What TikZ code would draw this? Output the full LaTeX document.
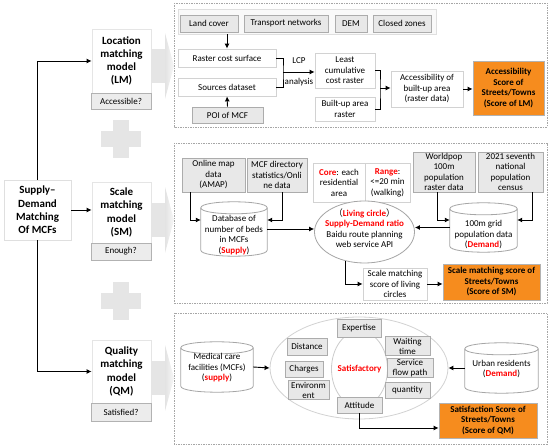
\documentclass[tikz,border=0pt]{standalone}
\usepackage{fontspec}
\setmainfont{Carlito}
\newfontfamily\cjk{Noto Sans CJK SC}
\usetikzlibrary{arrows.meta,shapes.geometric}
\definecolor{scoreorange}{RGB}{246,140,30}
\newcommand{\redb}[1]{\textcolor{red}{\bfseries #1}}
\newcommand{\drum}[2]{%
  \filldraw[draw=gray!70, fill=white, line width=0.8pt] (#1.north west) -- (#1.south west)
    .. controls +(0,4*#2/3) and +(0,4*#2/3) .. (#1.south east) -- (#1.north east)
    .. controls +(0,-4*#2/3) and +(0,-4*#2/3) .. (#1.north west) -- cycle;
  \draw[draw=gray!70, line width=0.8pt] (#1.north west)
    .. controls +(0,4*#2/3) and +(0,4*#2/3) .. (#1.north east);}

\begin{document}
\begin{tikzpicture}[x=1pt, y=-1pt, font=\fontsize{9}{10.5}\selectfont,
    gbox/.style={draw=gray!65, fill=gray!18, line width=0.8pt, inner sep=1pt, align=center},
    wbox/.style={draw=gray!35, fill=white, line width=0.8pt, inner sep=1pt, align=center},
    sbox/.style={draw=gray!60, fill=scoreorange, line width=0.8pt, inner sep=1pt, align=center, font=\fontsize{9}{10.5}\selectfont\bfseries},
    model/.style={draw=gray!20, fill=white, line width=0.8pt, inner sep=1pt, align=center, font=\fontsize{11}{13.3}\selectfont\bfseries},
    ask/.style={draw=gray!60, fill=gray!15, line width=0.8pt, inner sep=1pt},
    panel/.style={draw=gray!70, line width=0.6pt, dash pattern=on 1.5pt off 1pt},
    wire/.style={line width=0.9pt},
    link/.style={line width=0.9pt, -{Latex[length=5pt, width=5pt]}},
    holder/.style={inner sep=0pt, align=center}]
        \useasboundingbox (0,0) rectangle (550,446);

        \draw[panel] (174,3) rectangle (547,127);
        \draw[panel] (174,143) rectangle (547,303);
        \draw[panel] (174,313) rectangle (547,444);

        \foreach \cy in {66,220,378} {
            \fill[gray!20] (151,\cy-17) rectangle (165,\cy+17);
            \shade[left color=gray!22, right color=gray!6] (165,\cy-33) -- (174,\cy) -- (165,\cy+33) -- cycle;
        }
        \foreach \cy in {139,301} {
            \fill[gray!20] (113,\cy-19) rectangle (129,\cy+19);
            \fill[gray!20] (101,\cy-8) rectangle (141,\cy+8);
        }

        \node at (37.5,210) (sd) [model, draw=gray!25, minimum width=67pt, minimum height=60pt] {Supply–\\Demand\\Matching\\Of MCFs};
        \node at (121.5,61) (lm) [model, minimum width=59pt, minimum height=64pt] {Location\\matching\\model\\(LM)};
        \node at (121,101) (lmq) [ask, minimum width=60pt, minimum height=16pt] {Accessible?};
        \node at (121.5,212.5) (sm) [model, minimum width=59pt, minimum height=61pt] {Scale\\matching\\model\\(SM)};
        \node at (121,251.5) (smq) [ask, minimum width=60pt, minimum height=17pt] {Enough?};
        \node at (121.5,371.5) (qm) [model, minimum width=59pt, minimum height=63pt] {Quality\\matching\\model\\(QM)};
        \node at (121,412) (qmq) [ask, minimum width=60pt, minimum height=18pt] {Satisfied?};

        \draw[link] (sd.north) |- (lm.west);
        \draw[link] (sd.east) -- (sm.west |- sd.east);
        \draw[link] (sd.south) |- (qm.west);

        \node at (307,21.5) (inputs) [draw=gray!25, fill=gray!5, minimum width=258pt, minimum height=25pt] {};
        \node at (209,23.5) (landc) [gbox, minimum width=58pt, minimum height=17pt] {Land cover};
        \node at (286,23.5) (transp) [gbox, minimum width=84pt, minimum height=17pt] {Transport networks};
        \node at (351,23.5) (dem) [gbox, minimum width=32pt, minimum height=17pt] {DEM};
        \node at (402,23.5) (closed) [gbox, minimum width=58pt, minimum height=17pt] {Closed zones};
        \node at (227,58) (rcs) [wbox, minimum width=98pt, minimum height=18pt] {Raster cost surface};
        \node at (227,87) (src) [wbox, minimum width=98pt, minimum height=18pt] {Sources dataset};
        \node at (227.5,115) (poi) [gbox, minimum width=71pt, minimum height=16pt] {POI of MCF};
        \node at (345,70.5) (lcr) [wbox, minimum width=60pt, minimum height=35pt] {Least\\cumulative\\cost raster};
        \node at (345,109) (bua) [wbox, minimum width=60pt, minimum height=24pt] {Built-up area\\raster};
        \node at (427,89) (acc) [wbox, minimum width=72pt, minimum height=36pt] {Accessibility of\\built-up area\\(raster data)};
        \node at (508.5,88) (lmscore) [sbox, minimum width=71pt, minimum height=54pt] {Accessibility\\Score of\\Streets/Towns\\(Score of LM)};
        \node at (299,61) (lcp) {LCP};
        \node at (299,82) (ana) {analysis};
        \coordinate (lcpj) at (283,72);
        \coordinate (accj) at (380,88);

        \draw[link] (inputs.south -| rcs.north) -- (rcs.north);
        \draw[link] (poi.north) -- (src.south);
        \draw[wire] (rcs.east) -| (lcpj) |- (src.east);
        \draw[link] (lcpj) -- (lcpj -| lcr.west);
        \draw[wire] (lcr.east) -| (accj) |- (bua.east);
        \draw[link] (accj) -- (accj -| acc.west);
        \draw[link] (acc.east) -- (lmscore.west |- acc.east);

        \node at (213.5,175) (amap) [gbox, minimum width=63pt, minimum height=34pt] {Online map\\data\\(AMAP)};
        \node at (277,175) (mcfdir) [gbox, minimum width=60pt, minimum height=34pt] {MCF directory\\statistics/Onli\\ne data};
        \node at (339,182.5) (core) [wbox, minimum width=52pt, minimum height=39pt] {\redb{Core}: each\\residential\\area};
        \node at (387.5,182.5) (range) [wbox, minimum width=45pt, minimum height=39pt] {\redb{Range}:\\<=20 min\\(walking)};
        \node at (444,172) (worldpop) [gbox, minimum width=62pt, minimum height=40pt] {Worldpop\\100m\\population\\raster data};
        \node at (510.5,172) (census) [gbox, minimum width=65pt, minimum height=40pt] {2021 seventh\\national\\population\\census};

        \node at (234,229) (dbbeds) [holder, minimum width=66pt, minimum height=42pt] {};
        \drum{dbbeds}{6}
        \node at (234,235) (dbbedstext) [holder] {Database of\\number of beds\\in MCFs\\(\redb{Supply})};
        \node at (483.5,227.5) (grid) [holder, minimum width=67pt, minimum height=37pt] {};
        \drum{grid}{6}
        \node at (483.5,235) (gridtext) [holder] {100m grid\\population data\\(\redb{Demand})};

        \node at (364.5,232) (lc) [ellipse, draw=gray!70, fill=white, line width=0.8pt, minimum width=100pt, minimum height=62pt, inner sep=0pt] {};
        \node at (364.5,228) (lctext) [holder] {{\cjk （}\redb{Living circle}{\cjk ）}\\\redb{Supply-Demand ratio}\\Baidu route planning\\web service API};

        \node at (395,284) (sms) [wbox, minimum width=64pt, minimum height=32pt] {Scale matching\\score of living\\circles};
        \node at (491.5,282) (smscore) [sbox, minimum width=97pt, minimum height=36pt] {Scale matching score of\\Streets/Towns\\(Score of SM)};

        \draw[link] ([xshift=9pt]amap.south west) |- ([yshift=9pt]dbbeds.west);
        \draw[link] ([xshift=5pt]mcfdir.south) |- ([yshift=9pt]dbbeds.east);
        \draw[link] ([xshift=-7pt]worldpop.south) |- ([yshift=7.5pt]grid.west);
        \draw[link] ([xshift=21.5pt]census.south) |- ([yshift=7.5pt]grid.east);
        \draw[link] (dbbeds.east) -- (dbbeds.east -| lc.west);
        \draw[link] (grid.west) -- (grid.west -| lc.east);
        \draw[link] (lc.236) |- (sms.west);
        \draw[link] (sms.east) -- (smscore.west |- sms.east);

        \node at (217,367) (mcf) [holder, minimum width=72pt, minimum height=38pt] {};
        \drum{mcf}{6}
        \node at (217,368) (mcftext) [holder] {Medical care\\facilities (MCFs)\\(\redb{supply})};
        \node at (501.5,368) (urban) [holder, minimum width=73pt, minimum height=38pt] {};
        \drum{urban}{6}
        \node at (501.5,369) (urbantext) [holder] {Urban residents\\(\redb{Demand})};

        \node at (359,368) (satout) [ellipse, draw=gray!35, fill=white, line width=0.8pt, minimum width=178pt, minimum height=102pt, inner sep=0pt] {};
        \node at (359.5,369) (satin) [ellipse, draw=gray!40, line width=0.8pt, minimum width=56pt, minimum height=76pt, inner sep=0pt] {};
        \node at (359.5,369) (sattext) [holder] {\redb{Satisfactory}};
        \node at (359,328) (expert) [gbox, minimum width=44pt, minimum height=18pt] {Expertise};
        \node at (307,346.5) (dist) [gbox, minimum width=40pt, minimum height=17pt] {Distance};
        \node at (407.5,346) (wait) [gbox, minimum width=45pt, minimum height=18pt, font=\fontsize{9}{10}\selectfont] {Waiting\\time};
        \node at (304,369) (charge) [gbox, minimum width=38pt, minimum height=16pt] {Charges};
        \node at (410,368) (flow) [gbox, minimum width=46pt, minimum height=18pt, font=\fontsize{9}{10}\selectfont] {Service\\flow path};
        \node at (308.5,390) (envir) [gbox, minimum width=41pt, minimum height=18pt, font=\fontsize{9}{10}\selectfont] {Environm\\ent};
        \node at (407.5,390) (quant) [gbox, minimum width=45pt, minimum height=16pt] {quantity};
        \node at (359.5,405) (attit) [gbox, minimum width=45pt, minimum height=16pt] {Attitude};
        \node at (488,420.5) (qmscore) [sbox, minimum width=98pt, minimum height=35pt] {Satisfaction Score of\\Streets/Towns\\(Score of QM)};
        \coordinate (qmj) at (359.5,428);

        \draw[link] (mcf.east) -- (satout.west);
        \draw[link] (urban.west) -- (satout.east);
        \draw[link] (attit.south) -- (qmj) -- (qmj -| qmscore.west);
    \end{tikzpicture}
\end{document}
